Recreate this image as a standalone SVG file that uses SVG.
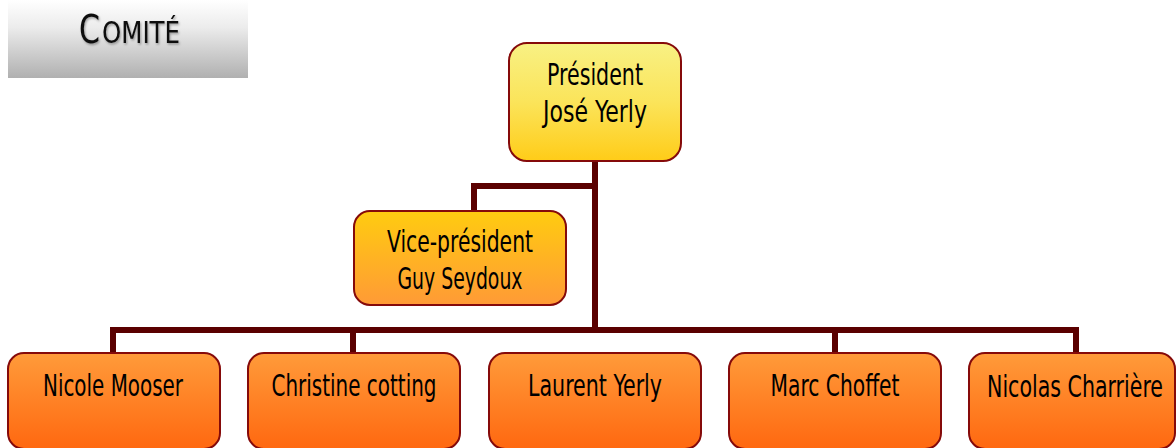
<svg xmlns="http://www.w3.org/2000/svg" width="1176" height="448" viewBox="0 0 1176 448">
<defs>
<linearGradient id="gTitle" x1="0" y1="0" x2="0" y2="1">
<stop offset="0" stop-color="#ffffff"/>
<stop offset="0.35" stop-color="#ececec"/>
<stop offset="1" stop-color="#b0b0b0"/>
</linearGradient>
<linearGradient id="gPres" x1="0" y1="0" x2="0" y2="1">
<stop offset="0" stop-color="#f8f184"/>
<stop offset="0.5" stop-color="#fbe45a"/>
<stop offset="1" stop-color="#ffcc18"/>
</linearGradient>
<linearGradient id="gVice" x1="0" y1="0" x2="0" y2="1">
<stop offset="0" stop-color="#ffcc10"/>
<stop offset="1" stop-color="#ff9a36"/>
</linearGradient>
<linearGradient id="gMem" x1="0" y1="0" x2="0" y2="1">
<stop offset="0" stop-color="#ff9b3a"/>
<stop offset="1" stop-color="#ff6810"/>
</linearGradient>
<filter id="sh" x="-10%" y="-10%" width="130%" height="140%">
<feDropShadow dx="1" dy="1.5" stdDeviation="0.8" flood-color="#000" flood-opacity="0.35"/>
</filter>
</defs>
<style>
.box{stroke:#850a0a;stroke-width:2}
.t{font-family:"DejaVu Sans Condensed","DejaVu Sans","Liberation Sans",sans-serif;font-size:31px;fill:#000;text-anchor:middle}
.h{font-family:"DejaVu Sans Condensed","DejaVu Sans",sans-serif;fill:#111;filter:url(#sh)}
.c{fill:none;stroke:#5a0000;stroke-width:6;stroke-linecap:square}
</style>
<g id="title">
<rect x="8" y="0" width="240" height="78" fill="url(#gTitle)"/>
<text class="h" x="79" y="43" font-size="39" textLength="21" lengthAdjust="spacingAndGlyphs">C</text>
<text class="h" x="102" y="43" font-size="30" textLength="78" lengthAdjust="spacingAndGlyphs">OMITÉ</text>
</g>
<g id="connectors">
<path class="c" d="M595 162 V330"/>
<path class="c" d="M595 186 H474 V210"/>
<path class="c" d="M113 352 V330 H1076 V352"/>
<path class="c" d="M353 330 V352"/>
<path class="c" d="M835 330 V352"/>
</g>
<g id="president">
<rect class="box" x="509" y="43" width="172" height="118" rx="18" fill="url(#gPres)"/>
<text class="t" x="595" y="85" textLength="96" lengthAdjust="spacingAndGlyphs">Président</text>
<text class="t" x="595" y="122" textLength="104" lengthAdjust="spacingAndGlyphs">José Yerly</text>
</g>
<g id="vice-president">
<rect class="box" x="354" y="211" width="212" height="94" rx="16" fill="url(#gVice)"/>
<text class="t" x="460" y="252" textLength="146" lengthAdjust="spacingAndGlyphs">Vice-président</text>
<text class="t" x="460" y="289" textLength="125" lengthAdjust="spacingAndGlyphs">Guy Seydoux</text>
</g>
<g id="nicole-mooser">
<rect class="box" x="8" y="353" width="212" height="96" rx="16" fill="url(#gMem)"/>
<text class="t" x="113" y="396" textLength="140" lengthAdjust="spacingAndGlyphs">Nicole Mooser</text>
</g>
<g id="christine-cotting">
<rect class="box" x="248" y="353" width="212" height="96" rx="16" fill="url(#gMem)"/>
<text class="t" x="354" y="396" textLength="165" lengthAdjust="spacingAndGlyphs">Christine cotting</text>
</g>
<g id="laurent-yerly">
<rect class="box" x="489" y="353" width="212" height="96" rx="16" fill="url(#gMem)"/>
<text class="t" x="595" y="396" textLength="134" lengthAdjust="spacingAndGlyphs">Laurent Yerly</text>
</g>
<g id="marc-choffet">
<rect class="box" x="729" y="353" width="212" height="96" rx="16" fill="url(#gMem)"/>
<text class="t" x="835" y="396" textLength="129" lengthAdjust="spacingAndGlyphs">Marc Choffet</text>
</g>
<g id="nicolas-charriere">
<rect class="box" x="969" y="353" width="206" height="96" rx="16" fill="url(#gMem)"/>
<text class="t" x="1075" y="397" textLength="176" lengthAdjust="spacingAndGlyphs">Nicolas Charrière</text>
</g>
</svg>
